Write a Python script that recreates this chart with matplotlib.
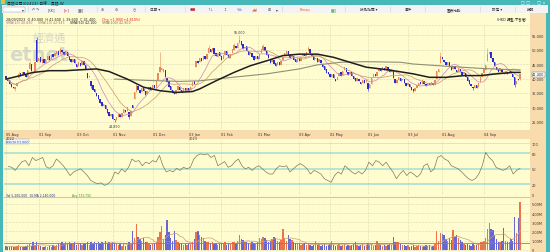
#!/usr/bin/env python3
import numpy as np
import pandas as pd
import matplotlib
matplotlib.use('Agg')
import matplotlib.pyplot as plt
from matplotlib.patches import Rectangle

plt.rcParams['font.family'] = ['DejaVu Sans', 'Noto Sans CJK TC']

# ---- values (daily bars, 05 Aug 2022 -> 28 Sep 2023) ----
opens = [40.8, 40.0, 39.4, 38.2, 37.0, 36.4, 37.4, 40.2, 41.8, 41.2,
         42.2, 41.2, 40.6, 43.2, 45.0, 42.4, 42.0, 53.2, 46.0, 47.4,
         45.4, 46.6, 45.4, 46.4, 47.8, 46.6, 48.4, 47.6, 48.6, 49.4,
         48.4, 50.0, 49.0, 48.2, 49.2, 47.8, 46.6, 45.8, 46.6, 45.0,
         44.2, 45.4, 44.6, 46.0, 44.6, 42.0, 40.4, 39.0, 37.6, 36.4,
         35.0, 34.2, 33.0, 31.8, 30.6, 31.0, 29.4, 28.4, 27.2, 27.6,
         26.2, 25.8, 26.6, 27.8, 26.6, 28.2, 29.2, 28.8, 28.4, 27.0,
         30.8, 33.0, 35.4, 37.4, 36.2, 35.2, 36.8, 35.6, 34.6, 36.0,
         37.0, 36.4, 37.6, 36.8, 39.4, 42.2, 43.0, 42.4, 43.0, 40.2,
         39.0, 37.4, 36.2, 35.2, 34.8, 36.2, 37.2, 36.0, 35.4, 36.8,
         35.8, 36.6, 36.0, 37.4, 39.0, 44.0, 46.2, 45.6, 47.2, 46.4,
         47.6, 46.8, 48.8, 50.2, 49.4, 50.4, 48.8, 47.4, 49.0, 47.6,
         46.6, 48.2, 49.4, 48.0, 47.2, 48.8, 50.0, 51.2, 50.6, 52.4,
         53.0, 51.8, 50.4, 51.2, 49.4, 48.4, 48.8, 47.6, 46.6, 47.6,
         46.8, 48.8, 50.0, 51.0, 49.6, 48.4, 46.8, 45.6, 46.4, 45.2,
         44.6, 45.6, 44.8, 46.4, 47.6, 48.6, 49.4, 48.0, 47.4, 47.8,
         46.6, 45.8, 47.2, 46.2, 47.6, 48.4, 47.8, 49.4, 50.2, 48.6,
         47.8, 46.6, 47.0, 45.6, 46.4, 45.0, 44.2, 43.2, 42.2, 41.6,
         40.6, 41.4, 40.0, 39.4, 40.8, 42.2, 41.2, 42.8, 43.6, 42.2,
         41.4, 42.2, 40.8, 40.2, 39.2, 40.0, 38.8, 38.4, 39.4, 38.8,
         38.6, 36.6, 38.2, 40.4, 41.4, 41.0, 42.6, 43.4, 42.8, 43.6,
         43.0, 44.0, 43.2, 42.2, 42.8, 40.0, 38.6, 39.6, 40.2, 39.4,
         39.8, 38.4, 37.6, 38.2, 37.2, 36.4, 35.6, 36.8, 37.4, 38.8,
         38.2, 39.2, 38.0, 37.6, 38.6, 37.6, 38.6, 37.8, 39.8, 42.4,
         45.4, 47.4, 46.4, 45.8, 44.8, 45.6, 44.0, 43.2, 44.4, 43.0,
         42.4, 43.4, 42.2, 41.4, 42.0, 40.4, 39.4, 38.2, 37.2, 36.8,
         37.6, 37.0, 38.8, 40.6, 42.0, 43.0, 46.2, 48.4, 49.0, 47.2,
         45.6, 44.0, 43.2, 42.6, 43.4, 42.0, 41.6, 42.4, 41.8, 42.6,
         41.6, 40.4, 38.0, 40.0, 40.0]
closes = [40.0, 39.2, 38.0, 37.0, 36.6, 37.2, 38.5, 41.6, 41.0, 42.4,
          41.4, 40.4, 43.0, 45.2, 42.6, 41.8, 45.6, 45.8, 47.2, 45.6,
          46.8, 45.2, 46.6, 47.6, 46.4, 48.2, 47.4, 48.8, 49.6, 48.2,
          50.2, 49.2, 48.0, 49.4, 47.6, 46.4, 45.6, 46.8, 45.2, 44.0,
          45.6, 44.4, 46.2, 44.8, 43.4, 40.2, 41.0, 37.4, 36.2, 35.2,
          34.0, 32.8, 31.6, 30.4, 31.2, 29.6, 28.2, 27.0, 27.8, 26.0,
          25.6, 26.8, 27.6, 26.8, 28.0, 29.4, 28.6, 30.2, 26.6, 28.8,
          29.8, 35.2, 37.6, 36.0, 35.0, 36.6, 35.8, 34.4, 35.8, 37.2,
          36.2, 37.8, 36.6, 39.2, 42.0, 43.8, 43.6, 43.4, 40.4, 38.8,
          37.2, 36.0, 35.0, 34.6, 36.0, 37.4, 36.2, 35.2, 36.6, 35.6,
          36.8, 35.8, 37.2, 38.8, 38.2, 46.0, 45.4, 47.0, 46.2, 47.8,
          46.6, 48.6, 50.4, 49.2, 50.6, 48.6, 47.6, 48.8, 47.8, 46.4,
          48.0, 49.6, 48.2, 47.0, 48.6, 50.2, 51.4, 50.4, 52.2, 53.2,
          51.6, 50.2, 51.0, 49.6, 48.2, 49.0, 47.4, 46.4, 47.8, 46.6,
          48.6, 50.2, 51.2, 49.4, 48.2, 47.0, 45.4, 46.6, 45.0, 44.4,
          45.8, 44.6, 46.2, 47.4, 48.8, 49.6, 48.2, 47.2, 48.0, 46.4,
          45.6, 47.0, 46.0, 47.4, 48.6, 47.6, 49.2, 50.4, 48.8, 47.6,
          46.4, 47.2, 45.8, 46.6, 45.2, 44.0, 43.0, 42.0, 41.4, 40.4,
          41.6, 40.2, 39.2, 40.6, 42.0, 41.0, 42.6, 43.8, 42.4, 41.2,
          42.4, 41.0, 40.0, 39.0, 40.2, 39.0, 38.2, 39.6, 38.6, 39.8,
          36.4, 38.0, 40.2, 41.6, 40.8, 42.4, 43.6, 42.6, 43.8, 42.8,
          44.2, 43.0, 42.4, 43.2, 40.2, 38.4, 39.4, 40.4, 39.2, 40.0,
          38.6, 37.4, 38.4, 37.0, 36.2, 35.8, 36.6, 37.6, 38.6, 38.0,
          39.4, 38.2, 37.4, 38.4, 37.8, 38.8, 37.6, 39.6, 42.6, 43.2,
          47.6, 46.6, 45.6, 44.6, 45.8, 44.2, 43.0, 44.2, 43.2, 42.2,
          43.6, 42.4, 41.2, 42.2, 40.6, 39.2, 38.0, 37.4, 36.6, 37.8,
          36.8, 38.6, 40.4, 41.8, 43.2, 44.6, 48.6, 49.2, 47.0, 45.8,
          44.2, 43.0, 42.4, 43.6, 42.2, 41.4, 42.6, 41.6, 42.8, 41.8,
          40.6, 37.6, 39.0, 39.5, 41.4]
# bars with visible wicks (others: high/low = body)
wick_hi = {7: 42.6, 13: 46.2, 17: 54.2, 30: 51.0, 85: 49.2, 112: 51.4, 126: 52.2,
           129: 55.0, 142: 52.0, 167: 51.2, 240: 49.0, 266: 50.5, 284: 41.6}
wick_lo = {5: 35.8, 47: 36.8, 60: 24.85, 68: 26.0, 200: 35.6, 225: 35.3, 258: 36.0,
           281: 37.2, 284: 39.6}
# volume, millions of shares
volume = [0.4, 0.35, 0.3, 0.45, 0.35, 0.3, 0.4, 0.55, 0.35, 0.3,
          0.3, 0.4, 0.5, 0.6, 0.45, 0.8, 0.5, 0.9, 0.5, 0.4,
          0.35, 0.3, 0.4, 0.3, 0.45, 0.35, 0.5, 0.4, 0.55, 0.6,
          0.7, 0.8, 0.6, 0.9, 0.7, 0.85, 0.6, 0.7, 0.8, 0.5,
          0.6, 0.7, 0.5, 0.75, 0.6, 0.9, 0.55, 0.8, 0.6, 0.85,
          0.7, 0.9, 0.6, 0.8, 0.7, 0.95, 0.65, 0.8, 0.6, 0.9,
          0.75, 0.6, 0.5, 0.7, 0.45, 0.6, 0.4, 0.5, 0.9, 0.6,
          2.1, 1.3, 2.8, 1.4, 1.2, 1.0, 1.3, 0.9, 0.8, 0.6,
          0.5, 0.6, 0.7, 0.9, 1.4, 1.9, 2.6, 1.2, 1.6, 3.2,
          1.9, 1.3, 1.0, 2.1, 1.1, 0.8, 0.6, 0.7, 0.5, 0.6,
          0.5, 0.7, 0.6, 0.8, 1.2, 1.9, 2.1, 1.6, 1.4, 1.3,
          1.0, 0.8, 0.9, 0.7, 0.8, 0.6, 0.7, 0.5, 0.6, 0.7,
          0.6, 0.8, 0.5, 0.7, 0.6, 0.9, 0.8, 0.7, 1.0, 1.6,
          1.2, 1.1, 0.8, 0.9, 0.7, 0.6, 0.8, 0.7, 0.6, 0.9,
          1.3, 1.2, 1.4, 1.3, 1.1, 0.9, 1.0, 1.2, 1.4, 1.3,
          1.0, 0.8, 1.1, 2.3, 1.3, 1.0, 1.6, 1.2, 1.1, 0.8,
          0.7, 0.6, 0.7, 0.5, 0.6, 0.7, 0.5, 0.6, 0.5, 0.4,
          0.5, 1.0, 0.5, 0.6, 0.4, 0.5, 0.6, 0.4, 0.5, 0.6,
          1.0, 0.5, 0.4, 0.5, 0.6, 0.4, 0.5, 0.6, 0.4, 0.5,
          0.4, 0.5, 0.6, 0.9, 0.5, 0.4, 0.5, 0.6, 0.4, 0.5,
          0.7, 0.5, 0.6, 0.4, 0.5, 1.0, 0.6, 0.5, 0.4, 0.5,
          0.4, 0.5, 0.6, 0.5, 1.4, 0.9, 0.8, 0.9, 0.6, 0.5,
          0.5, 0.4, 0.5, 0.3, 0.4, 0.5, 0.3, 0.4, 0.5, 0.4,
          0.3, 0.4, 0.5, 0.4, 0.5, 0.3, 0.4, 0.6, 2.0, 1.0,
          1.8, 1.7, 1.6, 1.2, 1.0, 1.3, 1.1, 2.2, 1.4, 1.6,
          1.3, 1.1, 0.8, 0.6, 0.5, 0.6, 0.5, 0.4, 0.6, 0.5,
          0.5, 0.7, 0.9, 0.8, 1.0, 1.3, 2.3, 2.9, 2.3, 2.2,
          1.6, 1.2, 0.9, 0.8, 1.0, 2.4, 1.0, 0.8, 0.9, 1.2,
          1.0, 3.6, 1.8, 3.5, 5.2]
avg_volume = 0.733792
# long moving averages (thick black, grey), read at a few points
ma50_idx = [0, 8, 15, 24, 33, 41, 50, 57, 67, 76, 85, 94, 103, 107, 116, 126, 135,
            144, 153, 162, 172, 181, 190, 199, 207, 216, 225, 234, 243, 253, 262,
            271, 280, 284]
ma50_val = [39.8, 41.0, 42.1, 42.7, 42.7, 43.0, 43.3, 42.4, 39.8, 37.0, 35.8, 35.2,
            35.5, 36.4, 39.2, 42.1, 44.4, 46.1, 47.9, 48.4, 48.4, 47.3, 45.6, 43.9,
            43.3, 42.5, 41.6, 40.4, 40.4, 41.0, 41.0, 41.6, 42.1, 42.1]
ma100_idx = [60, 80, 96, 107, 125, 144, 162, 172, 185, 199, 218, 225, 244, 262, 280, 284]
ma100_val = [39.8, 39.3, 39.0, 39.2, 40.4, 41.6, 43.3, 44.7, 45.6, 45.8, 45.6, 45.0,
             44.2, 43.5, 43.0, 42.9]
rsi = [54.5, 53, 47, 56, 64, 66, 56, 72, 66, 69,
       72, 54, 51, 56, 69, 63, 56, 47, 37, 44,
       47, 50, 44, 37, 27.5, 24, 21, 23, 18, 21,
       27.5, 44, 40, 50, 44, 53, 69, 64, 66, 56,
       63, 60, 66, 63, 76, 56, 44, 47, 44, 51,
       47, 53, 50, 53, 69, 76, 79, 77, 79, 72,
       76, 56, 60, 64, 53, 56, 64, 69, 56, 50,
       53, 47, 53, 56, 50, 44, 40, 40,
       50, 56, 54, 56, 44, 50, 56, 60, 56, 50,
       40, 47, 44, 40, 31, 27.5, 24, 37, 44, 40,
       56, 50, 44, 40, 45, 40, 47, 63, 56, 66,
       63, 56, 63, 53, 44, 31, 40, 47, 37, 44,
       40, 34, 40, 56, 60, 44, 50, 72, 76, 69,
       66, 56, 53, 50, 44, 37, 31, 27.5, 31, 40,
       56, 82, 72, 66, 53, 50, 47, 50, 56, 40,
       47, 51]
date_idx = [0, 18, 39, 59, 81, 101, 119, 139, 162, 179, 200, 222, 241, 264]
date_labels = ['05 Aug\n2022', '01 Sep', '03 Oct', '01 Nov', '01 Dec', '03 Jan\n2023',
               '01 Feb', '01 Mar', '03 Apr', '02 May', '01 Jun', '03 Jul', '01 Aug', '04 Sep']
last_date = '28/09/2023'
price_ticks = [25, 30, 35, 40, 45, 50, 55]
rsi_ticks = [0, 20, 50, 80, 100]
vol_ticks = [0, 1, 2, 3, 4, 5]

W, H = 550, 253
TEAL = '#46b8b8'
YELLOW = '#fffdd0'
PEACH = '#f8dcae'
UP, DOWN = '#ea8a55', '#2b2bd2'
VUP, VDOWN = '#e8643c', '#5454d4'
GRID = dict(color='#b9b9a2', lw=0.4, ls=(0, (1, 1.6)))
FS = 2.5


def box(x0, y0, x1, y1):
    return [x0 / W, 1 - y1 / H, (x1 - x0) / W, (y1 - y0) / H]


fig = plt.figure(figsize=(W / 100, H / 100), dpi=100, facecolor=TEAL)

# window chrome, drawn in pixel coordinates
bg = fig.add_axes([0, 0, 1, 1])
bg.set_xlim(0, W)
bg.set_ylim(H, 0)
bg.axis('off')
bg.add_patch(Rectangle((2, 6), 546, 8, fc='#f3f3f3', ec='none'))
bg.add_patch(Rectangle((3, 14), 527, 239, fc=YELLOW, ec='none'))
bg.add_patch(Rectangle((530, 14), 16, 239, fc=PEACH, ec='none'))
bg.add_patch(Rectangle((3, 131), 543, 9, fc=PEACH, ec='none'))
bg.hlines(198, 3, 530, color='#e3c08c', lw=0.8)
bg.hlines(26, 4, 530, **GRID)
bg.add_patch(Rectangle((1, 1), 4, 4, fc='#e8c040', ec='none'))
bg.text(7, 3.2, '貝殼公司(02423) 日線 - 貝殼-W', fontsize=2.8, color='#1c1c1c', va='center')
bg.text(546, 3.2, '□ □  _  □ ×', fontsize=3, color='white', va='center', ha='right')
bg.add_patch(Rectangle((3, 7.5), 22, 5, fc='white', ec='#999999', lw=0.3))
bg.text(22, 10, '▾', fontsize=2.6, color='#333333', va='center')
toolbar = [(32, '↶ ↷', '#555555'), (48, '[KK]', '#555555'), (64, '[⇤]', '#cc3333'),
           (78, '[▦]', '#555555'), (101, '⊕', '#555555'), (115, '⊖', '#555555'),
           (133, '◷', '#555555'), (150, '日期 ▾', '#333333'), (190, '●●', '#cc3333'),
           (207, '↑↓', '#339933'), (223, '↕', '#555555'), (237, '∿∿', '#3355aa'),
           (252, '◢◢', '#e07020'), (268, '⊞', '#555555'), (276, '▾', '#333333'),
           (300, 'Bmap', '#e07020'), (331, '[▣]', '#33aa33'), (360, '技術指標 ▾', '#333333'),
           (405, '事件', '#333333'), (447, '圖表比較', '#333333'), (492, '設定 ▾', '#333333'),
           (527, '說明', '#333333')]
for x, s, c in toolbar:
    bg.text(x, 10, s, fontsize=2.6, color=c, va='center')
for x in (28, 97, 145, 185, 282, 345, 390, 425, 480, 515):
    bg.vlines(x, 7, 13, color='#d0d0d0', lw=0.4)
bg.text(49, 38, '經濟通', fontsize=8, color='#bdbdbd', alpha=0.6, ha='center', va='center')
bg.text(39, 55, 'etnet', fontsize=14, fontweight='bold', color='#c2c2c2', alpha=0.6,
        ha='center', va='center')

# panels
ax = fig.add_axes(box(4, 26, 530, 131))
ax_rsi = fig.add_axes(box(4, 140.5, 530, 196.3), sharex=ax)
ax_vol = fig.add_axes(box(4, 199, 530, 252), sharex=ax)
for a in (ax, ax_rsi, ax_vol):
    a.set_facecolor('none')
    for s in a.spines.values():
        s.set_visible(False)
    a.yaxis.tick_right()
    a.tick_params(length=0, labelsize=FS, labelcolor='#333333', pad=1.5)
    a.grid(axis='x', **GRID)
ax.set_xticks(date_idx)
ax.set_xticklabels(date_labels)
for t in ax.get_xticklabels():
    t.set_ha('left')
ax.tick_params(axis='x', pad=1.2)
ax_rsi.tick_params(axis='x', labelbottom=False)
ax_vol.tick_params(axis='x', labelbottom=False)
ax.set_xlim(-1.1, 289.5)

# candles
idx = np.arange(len(closes))
o = np.array(opens)
c = np.array(closes)
hi = np.maximum(o, c)
lo = np.minimum(o, c)
for k, v in wick_hi.items():
    hi[k] = v
for k, v in wick_lo.items():
    lo[k] = v
up = c >= o
col = np.where(up, UP, DOWN)
ax.vlines(idx, lo, hi, colors=col, lw=0.4, zorder=3)
ax.bar(idx, np.maximum(np.abs(c - o), 0.15), bottom=np.minimum(o, c), width=0.75,
       color=col, lw=0, zorder=3)

s = pd.Series(closes)
ax.plot(idx, s.rolling(10, min_periods=1).mean(), color='#cf8fb8', lw=0.55, zorder=4)
ax.plot(idx, s.rolling(20, min_periods=1).mean(), color='#cfa06c', lw=0.55, zorder=4)
ax.plot(ma100_idx, ma100_val, color='#8f8f74', lw=0.8, zorder=4)
ax.plot(ma50_idx, ma50_val, color='#1e1e1e', lw=1.1, zorder=5)

ax.set_ylim(22.24, 58.45)
ax.set_yticks(price_ticks)
ax.set_yticklabels([f'{v:.3f}' for v in price_ticks])
ax.grid(axis='y', **GRID)
k_hi = int(np.argmax(hi))
k_lo = int(np.argmin(lo))
ax.text(k_hi, hi[k_hi] + 0.4, f'{hi[k_hi]:.3f}', fontsize=2.3, ha='center', va='bottom', color='#333333')
ax.text(k_lo, lo[k_lo] - 0.4, f'{lo[k_lo]:.3f}', fontsize=2.3, ha='center', va='top', color='#333333')
ax.text(1.004, closes[-1], f'{closes[-1]:.3f}', transform=ax.get_yaxis_transform(), fontsize=FS,
        va='center', ha='left', color='#222222',
        bbox=dict(fc='white', ec='#666666', lw=0.3, pad=0.4))

# header lines
chg = closes[-1] - closes[-2]
bg.text(6, 19.5, f'{last_date}  O {o[-1]:.3f}  H {hi[-1]:.3f}  L {lo[-1]:.3f}  C {c[-1]:.3f}',
        fontsize=2.4, color='#222222', va='center')
bg.text(102, 19.5, f'Chg {chg:+.3f}({chg / closes[-2] * 100:+.3f}%)', fontsize=2.4,
        color='#e02020', va='center')
ma10_last = s.rolling(10).mean().iloc[-1]
ma20_last = s.rolling(20).mean().iloc[-1]
for x, txt, cc in [(6, f'SMA(10) {ma10_last:.3f}', '#c0609a'),
                   (38, f'SMA(20) {ma20_last:.3f}', '#b07a3c'),
                   (70, f'SMA(50) {ma50_val[-1]:.3f}', '#1e1e1e'),
                   (102, f'SMA(100) {ma100_val[-1]:.3f}', '#6f6f58')]:
    bg.text(x, 23, txt, fontsize=2.3, color=cc, va='center')
bg.text(497, 19.5, '(HKD 調整-不含權)', fontsize=2.4, color='#222222', va='center')

# RSI
rsi_x = np.linspace(1.3, 284, len(rsi))
for lvl in (20, 50, 80):
    ax_rsi.axhline(lvl, color='#a8dad0', lw=1.1, zorder=0)
ax_rsi.axhline(100, color='#c9dccf', lw=0.5, zorder=0)
ax_rsi.plot(rsi_x, rsi, color='#7a7a5a', lw=0.5)
ax_rsi.set_ylim(-1.2, 106.8)
ax_rsi.set_yticks(rsi_ticks)
ax_rsi.set_yticklabels([str(v) for v in rsi_ticks])
bg.text(6, 142.6, f'RSI(9) {rsi[-1]:.3f}', fontsize=2.3, color='#2040a0', va='center',
        bbox=dict(fc='#eef4ff', ec='#99aabb', lw=0.3, pad=0.3))

# volume
vcol = np.where(up, VUP, VDOWN)
ax_vol.bar(idx, volume, width=0.75, color=vcol, lw=0, alpha=0.9)
vma = pd.Series(volume).rolling(10, min_periods=1).mean()
ax_vol.plot(idx, vma, color='#c9a06e', lw=0.5)
ax_vol.axhline(avg_volume, color='#5ea53e', lw=0.6)
ax_vol.set_ylim(-0.13, 5.65)
ax_vol.set_yticks(vol_ticks)
ax_vol.set_yticklabels(['0'] + [f'{v:.2f}M' for v in vol_ticks[1:]])
ax_vol.grid(axis='y', **GRID)
bg.text(6, 195.9, f'Vol {volume[-1] * 1e6:,.0f}  10-MA {vma.iloc[-1] * 1e6:,.0f}',
        fontsize=2.2, color='#203080', va='center')
bg.text(72, 195.9, f'Avg {avg_volume * 1e6:,.0f}', fontsize=2.2, color='#3f8f2a', va='center')

fig.savefig('out.png', dpi=100, facecolor=TEAL)
